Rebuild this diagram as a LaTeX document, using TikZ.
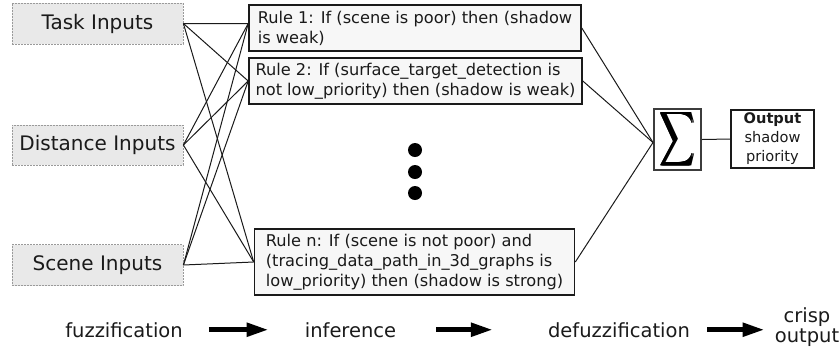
\documentclass[tikz,border=0pt]{standalone}
\usepackage{fontspec}
\usepackage{graphicx}
\setmainfont{DejaVu Sans}
\usetikzlibrary{arrows.meta}
\definecolor{inputfill}{HTML}{E9E9E9}
\definecolor{inputline}{HTML}{9A9A9A}
\definecolor{rulefill}{HTML}{F7F7F7}
\definecolor{ink}{HTML}{1A1A1A}
% a heavier display summation sign, overprinted with small horizontal offsets
\newcommand{\heavysum}{\rlap{$\displaystyle\sum$}\kern0.35pt\rlap{$\displaystyle\sum$}\kern0.35pt\rlap{$\displaystyle\sum$}\kern0.35pt$\displaystyle\sum$}
\begin{document}
\begin{tikzpicture}[x=1bp,y=-1bp,
  inputbox/.style={draw=inputline, fill=inputfill, line width=0.8bp,
    dash pattern=on 2bp off 1bp, minimum width=171bp, inner sep=0pt,
    font=\fontsize{20bp}{24bp}\selectfont, text=ink},
  rulebox/.style={draw=ink, fill=rulefill, line width=1.6bp, align=left,
    inner xsep=6bp, inner ysep=0bp,
    font=\fontsize{16.2bp}{20bp}\selectfont, text=ink},
  wire/.style={draw=ink, line width=1bp},
  dotmark/.style={circle, fill=black, minimum size=14bp, inner sep=0pt},
  stage/.style={inner sep=0pt, font=\fontsize{19.5bp}{20bp}\selectfont, text=ink},
  bigarrow/.style={line width=5bp, -{Triangle[length=22bp,width=13bp]}},
]
\useasboundingbox (0,0) rectangle (839,358);

% input groups
\node[inputbox, minimum height=41bp] (task)  at (97.5,23.5) {Task Inputs};
\node[inputbox, minimum height=40bp] (dist)  at (97.5,145)  {Distance Inputs};
\node[inputbox, minimum height=41bp] (scene) at (97.5,265)  {Scene Inputs};

% fuzzy rules
\node[rulebox, minimum width=332bp, minimum height=46bp] (r1) at (415,28)
  {Rule 1: If (scene is poor) then (shadow\\is weak)};
\node[rulebox, minimum width=333bp, minimum height=46bp] (r2) at (415.5,81)
  {Rule 2: If (surface\_target\_detection is\\not low\_priority) then (shadow is weak)};
\node[rulebox, minimum width=320bp, minimum height=66bp] (rn) at (414.5,262)
  {Rule n: If (scene is not poor) and\\(tracing\_data\_path\_in\_3d\_graphs is\\low\_priority) then (shadow is strong)};

% ellipsis between rules
\node[dotmark] (d1) at (415,150) {};
\node[dotmark] (d2) at (415,172) {};
\node[dotmark] (d3) at (415,193) {};

% aggregation and output
\node[draw=ink!85, line width=2bp, fill=white, minimum width=47bp, minimum height=51bp, inner sep=0pt]
  (sum) at (677.5,139.5) {\resizebox{37bp}{40bp}{\heavysum}};
\node[draw=ink, line width=1.3bp, minimum width=83bp, minimum height=58bp, align=center,
  inner sep=0pt, text=ink, font=\fontsize{14.6bp}{19bp}\selectfont]
  (out) at (772.5,139) {\textbf{Output}\\shadow\\priority};

% wiring
\coordinate (r1in) at ([yshift=4.5bp]r1.west);
\coordinate (sumin) at ([yshift=-3bp]sum.west);
\foreach \s in {task,dist,scene}{
  \draw[wire] (\s.east) -- (r1in);
  \draw[wire] (\s.east) -- (r2.west);
  \draw[wire] (\s.east) -- (rn.west);
}
\foreach \r in {r1,r2,rn}
  \draw[wire] (\r.east) -- (sumin);
\draw[wire] (sum.east) -- (out.west);

% processing stages
\node[stage, anchor=base] (fz)    at (124,337)   {fuzzification};
\node[stage, anchor=base] (inf)   at (350.5,337) {inference};
\node[stage, anchor=base] (dfz)   at (619,337)   {defuzzification};
\node[stage, anchor=base] (crisp) at (807,322)   {crisp};
\node[stage, anchor=base] (outp)  at (807,342)   {output};

\draw[bigarrow, shorten <=26bp, shorten >=36bp] (fz.east) -- (inf.west);
\draw[bigarrow, shorten <=40bp, shorten >=55bp] (inf.east) -- (dfz.west);
\draw[bigarrow, shorten <=17bp, shorten >=10bp] (dfz.east) -- (dfz.east -| outp.west);
\end{tikzpicture}
\end{document}
